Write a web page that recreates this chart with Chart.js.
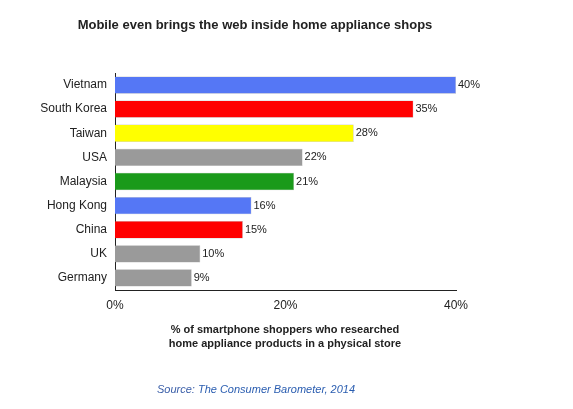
<!DOCTYPE html>
<html><head><meta charset="utf-8">
<script src="https://cdn.jsdelivr.net/npm/chart.js@4"></script>
<style>html,body{margin:0;padding:0;background:#fff}#w{width:573px;height:409px}</style>
</head><body><div id="w"><canvas id="c"></canvas></div>
<script>
const categories=["Vietnam","South Korea","Taiwan","USA","Malaysia","Hong Kong","China","UK","Germany"];
const values=[40,35,28,22,21,16,15,10,9];
const colors=["#5577f5","#ff0000","#ffff00","#9a9a9a","#1a9a1a","#5577f5","#ff0000","#9a9a9a","#9a9a9a"];
const xTicks=[0,20,40];
const textPlugin={id:'txt',afterDraw(ch){const c=ch.ctx;c.save();
c.fillStyle='#222';c.font='bold 13px Arial, "Liberation Sans"';c.textAlign='center';c.textBaseline='middle';
c.fillText('Mobile even brings the web inside home appliance shops',255,25);
c.font='bold 11px Arial, "Liberation Sans"';
c.fillText('% of smartphone shoppers who researched',285,330);
c.fillText('home appliance products in a physical store',285,344);
c.font='italic 11px Arial, "Liberation Sans"';c.textAlign='left';
const s1='Source: ',s2='The Consumer Barometer, 2014';const w1=c.measureText(s1).width,w2=c.measureText(s2).width;
const x0=256-(w1+w2)/2;c.fillStyle='#3a5ea8';c.fillText(s1,x0,390);c.fillStyle='#2a5db0';c.fillText(s2,x0+w1,390);
// value labels
const m=ch.getDatasetMeta(0);c.font='11px Arial, "Liberation Sans"';c.fillStyle='#222';c.textAlign='left';
m.data.forEach((b,i)=>c.fillText(values[i]+'%',b.x+2,b.y));
c.restore();}};
new Chart(document.getElementById('c'),{type:'bar',
data:{labels:categories,datasets:[{data:values,backgroundColor:colors,borderColor:'rgba(120,120,120,0.6)',borderWidth:0.5,barPercentage:0.72,categoryPercentage:1}]},
options:{indexAxis:'y',responsive:true,maintainAspectRatio:false,animation:false,
layout:{padding:{top:73,right:117,bottom:0,left:0}},
plugins:{legend:{display:false},tooltip:{enabled:false}},
scales:{
x:{min:0,max:40,afterBuildTicks(a){a.ticks=xTicks.map(v=>({value:v}));},
ticks:{callback:v=>v+'%',color:'#222',font:{size:12,family:'Arial, "Liberation Sans"'},padding:4},
grid:{display:false,drawTicks:true,tickLength:4},border:{color:'#222'},
afterFit(a){a.height=119;}},
y:{ticks:{color:'#222',font:{size:12,family:'Arial, "Liberation Sans"'},padding:8},
grid:{display:false,tickLength:0},border:{color:'#222'},afterFit(a){a.width=115;}}
}},plugins:[textPlugin]});
</script></body></html>
